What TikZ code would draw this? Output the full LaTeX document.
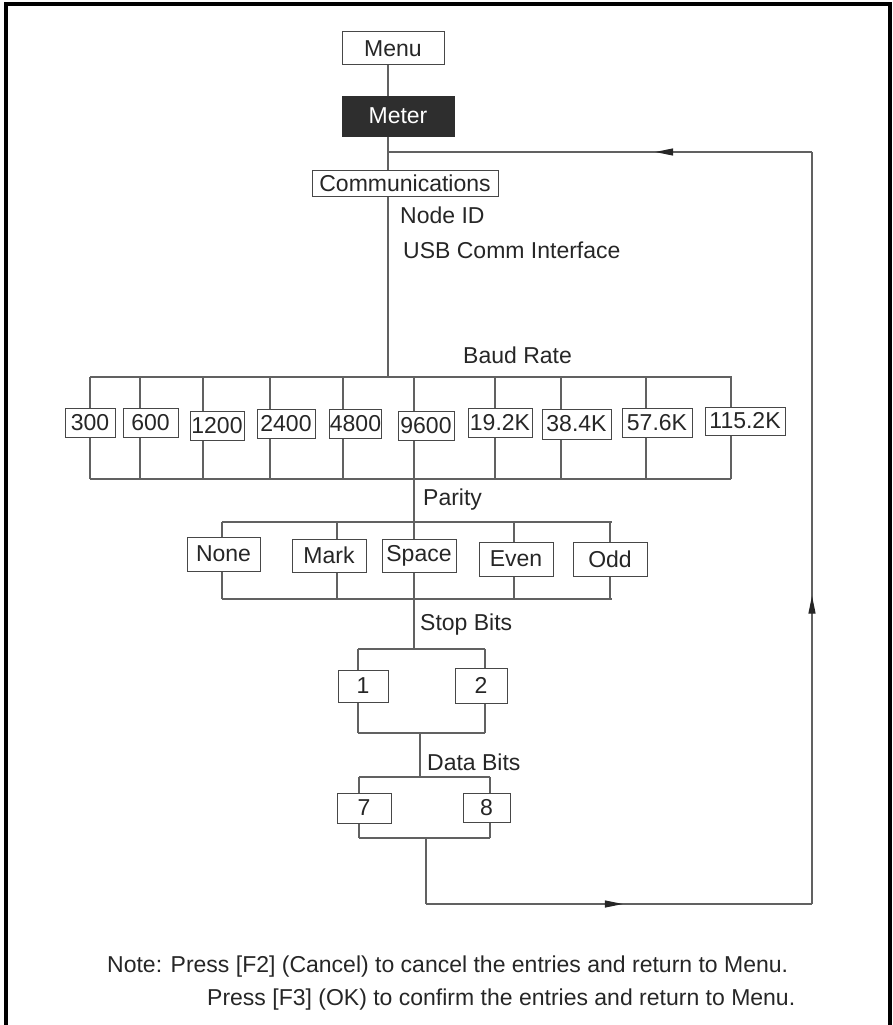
\documentclass[tikz,border=0pt]{standalone}
\usepackage{fontspec}
\setmainfont{Liberation Sans}
\usetikzlibrary{arrows.meta,decorations.markings}
\begin{document}
\begin{tikzpicture}[x=1pt,y=-1pt,
  font=\fontsize{23}{27}\selectfont,
  ln/.style={draw=black!62, line width=1.2pt},
  bx/.style={draw=black!72, line width=1pt, inner sep=0pt, fill=white, text=black!85},
  lbl/.style={anchor=west, inner sep=0pt, text=black!85},
  midarrow/.style={postaction={decorate}, decoration={markings,
     mark=at position #1 with {\arrow{Triangle[length=18pt,width=7pt,color=black!85]}}}}]
\useasboundingbox (0,0) rectangle (893,1025);
% frame
\draw[line width=4pt] (6,1025) -- (6,4.5) -- (890,4.5) -- (890,1025);

% top boxes
\node[bx, minimum width=102pt, minimum height=33pt] (menu) at (393,48.5) {Menu};
\node[bx, minimum width=112pt, minimum height=40pt, fill=black!82, draw=black!82, text=white] (meter) at (398,116) {Meter};
\node[bx, minimum width=186pt, minimum height=26pt] (comm) at (405,183) {Communications};

\coordinate (sp) at (388,152);
\draw[ln] (sp |- menu.south) -- (sp |- meter.north);
\draw[ln] (sp |- meter.south) -- (sp |- comm.north);

\node[lbl] (nodeid) at (400,215) {Node ID};
\node[lbl] (usb) at (403,250) {USB Comm Interface};
\node[lbl] (baud) at (463,355) {Baud Rate};

% baud rate
\coordinate (btl) at (90,377);
\coordinate (btr) at (732,377);
\coordinate (bbl) at (90,479);
\coordinate (bbr) at (731,479);
\draw[ln] (sp |- comm.south) -- (sp |- btl);
\draw[ln] (btl) -- (btr);
\draw[ln] (bbl) -- (bbr);

\node[bx, minimum width=50pt, minimum height=29pt] (b300) at (90,422.5) {300};
\node[bx, minimum width=55pt, minimum height=29pt] (b600) at (150.5,422.5) {600};
\node[bx, minimum width=54pt, minimum height=29pt] (b1200) at (217,425.5) {1200};
\node[bx, minimum width=58pt, minimum height=29pt] (b2400) at (286,423.5) {2400};
\node[bx, minimum width=51pt, minimum height=29pt] (b4800) at (355.5,423.5) {4800};
\node[bx, minimum width=56pt, minimum height=29pt] (b9600) at (426,425.5) {9600};
\node[bx, minimum width=64pt, minimum height=29pt] (b19) at (500,422.5) {19.2K};
\node[bx, minimum width=69pt, minimum height=30pt] (b38) at (576.5,424) {38.4K};
\node[bx, minimum width=70pt, minimum height=29pt] (b57) at (657,422.5) {57.6K};
\node[bx, minimum width=80pt, minimum height=28pt] (b115) at (745,421) {115.2K};

\foreach \n/\x in {b300/90, b600/140, b1200/203, b2400/270, b4800/343,
                   b9600/414, b19/495, b38/561, b57/646, b115/731} {
  \coordinate (v\n) at (\x,377);
  \draw[ln] (v\n) -- (v\n |- \n.north);
  \draw[ln] (v\n |- \n.south) -- (v\n |- bbl);
}

% parity
\node[lbl] (parity) at (423,500) {Parity};
\coordinate (ptl) at (222,522);
\coordinate (ptr) at (612,522);
\coordinate (pbl) at (222,599);
\coordinate (pbr) at (612,599);
\draw[ln] (vb9600 |- bbl) -- (vb9600 |- ptl);
\draw[ln] (ptl) -- (ptr);
\draw[ln] (pbl) -- (pbr);

\node[bx, minimum width=73pt, minimum height=34pt] (none) at (223.5,554) {None};
\node[bx, minimum width=74pt, minimum height=33pt] (mark) at (329,555.5) {Mark};
\node[bx, minimum width=74pt, minimum height=33pt] (space) at (419,555.5) {Space};
\node[bx, minimum width=74pt, minimum height=34pt] (even) at (516,559) {Even};
\node[bx, minimum width=74pt, minimum height=34pt] (odd) at (610,559) {Odd};

\foreach \n/\x in {none/222, mark/337, space/414, even/514, odd/610} {
  \coordinate (v\n) at (\x,522);
  \draw[ln] (v\n) -- (v\n |- \n.north);
  \draw[ln] (v\n |- \n.south) -- (v\n |- pbl);
}

% stop bits
\node[lbl] (stop) at (420,625) {Stop Bits};
\coordinate (stl) at (358,649);
\coordinate (str) at (485,649);
\coordinate (sbl) at (358,733);
\coordinate (sbr) at (485,733);
\draw[ln] (vspace |- pbl) -- (vspace |- stl);
\draw[ln] (stl) -- (str);
\draw[ln] (sbl) -- (sbr);
\node[bx, minimum width=50pt, minimum height=32pt] (s1) at (363,686) {1};
\node[bx, minimum width=52pt, minimum height=35pt] (s2) at (481,685.5) {2};
\foreach \n/\x in {s1/358, s2/485} {
  \coordinate (v\n) at (\x,649);
  \draw[ln] (v\n) -- (v\n |- \n.north);
  \draw[ln] (v\n |- \n.south) -- (v\n |- sbl);
}

% data bits
\node[lbl] (data) at (427,762) {Data Bits};
\coordinate (dfeed) at (420,733);
\coordinate (dtl) at (359,777);
\coordinate (dtr) at (490,777);
\coordinate (dbl) at (359,838);
\coordinate (dbr) at (490,838);
\draw[ln] (dfeed) -- (dfeed |- dtl);
\draw[ln] (dtl) -- (dtr);
\draw[ln] (dbl) -- (dbr);
\node[bx, minimum width=54pt, minimum height=30pt] (d7) at (364,808) {7};
\node[bx, minimum width=47pt, minimum height=29pt] (d8) at (486.5,807.5) {8};
\foreach \n/\x in {d7/359, d8/490} {
  \coordinate (v\n) at (\x,777);
  \draw[ln] (v\n) -- (v\n |- \n.north);
  \draw[ln] (v\n |- \n.south) -- (v\n |- dbl);
}

% return loop
\coordinate (dout) at (426,838);
\coordinate (c1) at (426,904);
\coordinate (c2) at (812,904);
\coordinate (c3) at (812,152);
\draw[ln] (dout) -- (c1);
\draw[ln, midarrow=0.51] (c1) -- (c2);
\draw[ln, midarrow=0.41] (c2) -- (c3);
\draw[ln, midarrow=0.37] (c3) -- (sp);

% note
\node[lbl] (note1) at (107,967) {Note: Press [F2] (Cancel) to cancel the entries and return to Menu.};
\node[lbl] (note2) at (207,1000) {Press [F3] (OK) to confirm the entries and return to Menu.};
\end{tikzpicture}
\end{document}
